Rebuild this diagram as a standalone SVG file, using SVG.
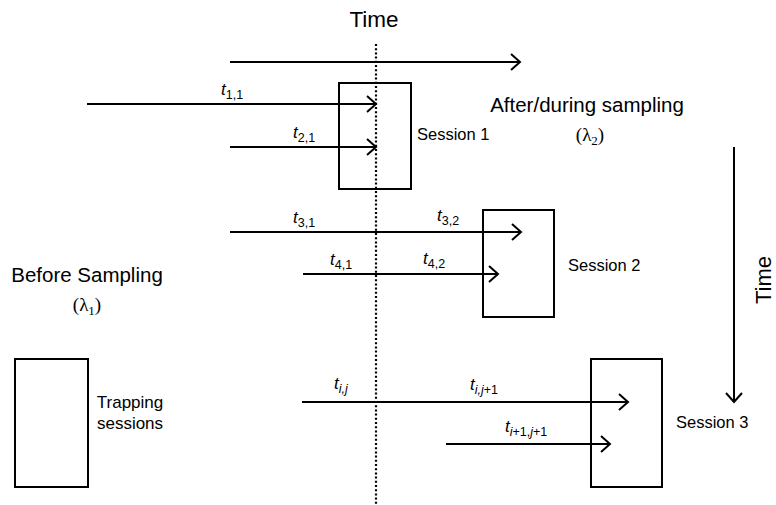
<svg xmlns="http://www.w3.org/2000/svg" width="776" height="505" viewBox="0 0 776 505">
<defs>
<style>
.ln{stroke:#000;stroke-width:2;fill:none}
.box{stroke:#000;stroke-width:2;fill:none}
.t{font-family:"Liberation Sans",Arial,sans-serif;fill:#000}
.lab{font-family:"Liberation Sans",Arial,sans-serif;font-style:italic;font-size:17px;fill:#000}
.sub{font-size:12.5px;font-style:normal}
.it{font-style:italic}
.lam{font-family:"Liberation Serif","Times New Roman",serif;font-size:19px;fill:#000}
.ses{font-size:16.5px}
</style>
<marker id="ah" markerUnits="userSpaceOnUse" markerWidth="12" markerHeight="18" viewBox="0 0 12 18" refX="10" refY="9" orient="auto">
<path d="M1,1 L10,9 L1,17" fill="none" stroke="#000" stroke-width="2"/>
</marker>
</defs>
<rect width="776" height="505" fill="#fff"/>

<text class="t" x="374" y="27" font-size="22.5" text-anchor="middle">Time</text>
<line x1="376" y1="44" x2="376" y2="505" stroke="#000" stroke-width="2.2" stroke-dasharray="2,2.2"/>

<g id="session1"><rect class="box" x="339" y="83" width="72" height="106"/>
<text class="t ses" x="417" y="140">Session 1</text></g>
<g id="session2"><rect class="box" x="483" y="210" width="71" height="107"/>
<text class="t ses" x="568" y="271">Session 2</text></g>
<g id="session3"><rect class="box" x="591" y="359" width="71" height="128"/>
<text class="t ses" x="676" y="428">Session 3</text></g>
<g id="trapping"><rect class="box" x="15" y="359" width="73" height="128"/>
<text class="t" x="130" y="408" font-size="17" text-anchor="middle">Trapping</text>
<text class="t" x="130" y="429" font-size="17" text-anchor="middle">sessions</text></g>

<g id="before"><text class="t" x="87" y="282" font-size="20.5" text-anchor="middle">Before Sampling</text>
<text class="lam" x="87" y="311" text-anchor="middle">(λ<tspan font-size="13" dy="4">1</tspan><tspan dy="-4">)</tspan></text></g>
<g id="after"><text class="t" x="587" y="112" font-size="20.5" text-anchor="middle">After/during sampling</text>
<text class="lam" x="590" y="141" text-anchor="middle">(λ<tspan font-size="13" dy="4">2</tspan><tspan dy="-4">)</tspan></text></g>

<g id="connectors">
<line class="ln" x1="230" y1="62" x2="520" y2="62" marker-end="url(#ah)"/>
<line class="ln" x1="87" y1="104" x2="376" y2="104" marker-end="url(#ah)"/>
<line class="ln" x1="230" y1="147" x2="376" y2="147" marker-end="url(#ah)"/>
<line class="ln" x1="230" y1="232" x2="521" y2="232" marker-end="url(#ah)"/>
<line class="ln" x1="303" y1="274" x2="498" y2="274" marker-end="url(#ah)"/>
<line class="ln" x1="302" y1="402" x2="628" y2="402" marker-end="url(#ah)"/>
<line class="ln" x1="446" y1="444" x2="610" y2="444" marker-end="url(#ah)"/>
<line class="ln" x1="734" y1="147" x2="734" y2="402" marker-end="url(#ah)"/>
</g>
<text class="t" font-size="22" transform="translate(771,280) rotate(-90)" text-anchor="middle">Time</text>

<g id="labels">
<text class="lab" x="221" y="95">t<tspan class="sub" dy="4">1,1</tspan></text>
<text class="lab" x="293" y="138">t<tspan class="sub" dy="4">2,1</tspan></text>
<text class="lab" x="293" y="223">t<tspan class="sub" dy="4">3,1</tspan></text>
<text class="lab" x="437" y="221">t<tspan class="sub" dy="4">3,2</tspan></text>
<text class="lab" x="330" y="265">t<tspan class="sub" dy="4">4,1</tspan></text>
<text class="lab" x="423" y="264">t<tspan class="sub" dy="4">4,2</tspan></text>
<text class="lab" x="334" y="389">t<tspan class="sub it" dy="4">i,j</tspan></text>
<text class="lab" x="470" y="390">t<tspan class="sub" dy="4"><tspan class="it">i,j</tspan>+1</tspan></text>
<text class="lab" x="505" y="432">t<tspan class="sub" dy="4"><tspan class="it">i</tspan>+1,<tspan class="it">j</tspan>+1</tspan></text>
</g>
</svg>
